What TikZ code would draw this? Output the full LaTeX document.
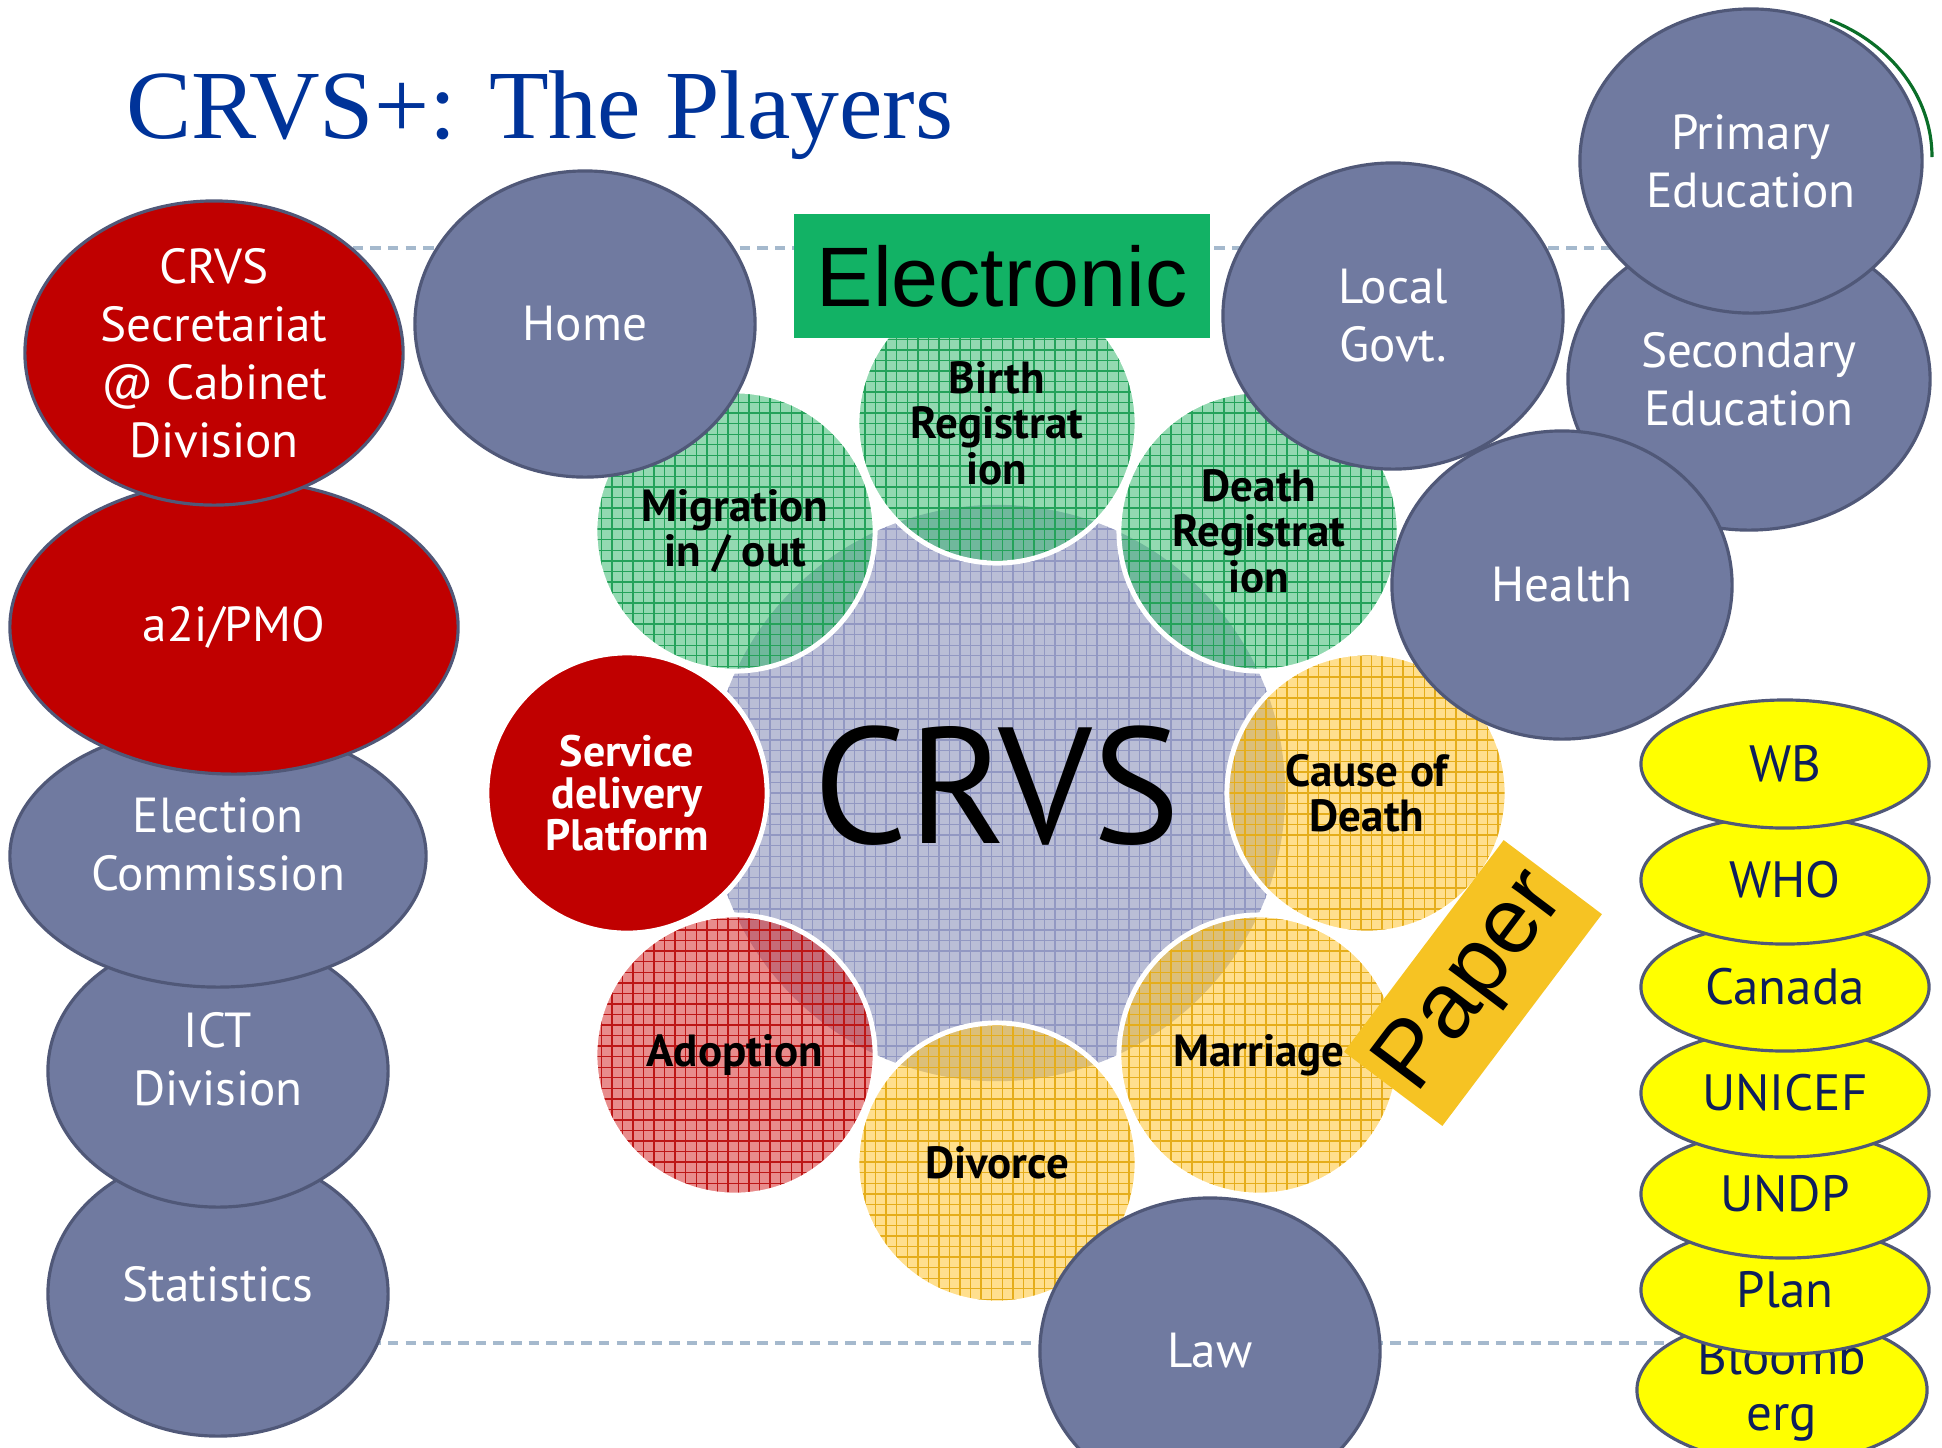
\documentclass[tikz,border=0pt]{standalone}
\usepackage{fontspec}
\setmainfont{PT Sans}
\newfontfamily\titlefont{Liberation Serif}
\newfontfamily\tagfont{Liberation Sans}
\usetikzlibrary{shapes.geometric,patterns}

\definecolor{playerblue}{RGB}{112,122,160}
\definecolor{playeredge}{RGB}{80,88,120}
\definecolor{crvsred}{RGB}{192,0,0}
\definecolor{donoryellow}{RGB}{255,255,0}
\definecolor{donortext}{RGB}{14,30,92}
\definecolor{titleblue}{RGB}{0,51,153}
\definecolor{hubgrey}{RGB}{186,190,214}
\definecolor{hubgrid}{RGB}{146,152,194}
\definecolor{evgreen}{RGB}{40,180,100}
\definecolor{evyellow}{RGB}{255,192,30}
\definecolor{evred}{RGB}{210,25,25}
\definecolor{tabgreen}{RGB}{18,178,101}
\definecolor{tabgold}{RGB}{246,195,35}
\definecolor{rulegrey}{RGB}{165,185,205}
\definecolor{arcgreen}{RGB}{10,110,40}

\tikzset{
  player/.style={ellipse, draw=playeredge, line width=0.9pt, fill=playerblue,
    text=white, align=center, inner sep=0pt, font=\fontsize{14}{16.5}\selectfont},
  lead/.style={player, fill=crvsred},
  donor/.style={ellipse, draw=playeredge, line width=0.9pt, fill=donoryellow,
    text=donortext, align=center, inner sep=0pt, minimum width=2.88cm,
    minimum height=1.28cm, font=\fontsize{14.5}{16}\selectfont},
  event/.style={circle, minimum size=2.8cm, inner sep=0pt, draw=white,
    line width=1.4pt, fill opacity=0.5, text opacity=1, preaction={fill=#1},
    pattern=grid, pattern color=#1!90!black, align=center,
    font=\bfseries\fontsize{12.8}{12.9}\selectfont},
  platform/.style={circle, minimum size=2.8cm, inner sep=0pt, draw=white,
    line width=1.4pt, fill=crvsred, text=white, align=center,
    font=\bfseries\fontsize{12.5}{12}\selectfont},
  tab/.style={inner sep=0pt, font=\tagfont\fontsize{24}{24}\selectfont},
  rule/.style={rulegrey, line width=0.9pt, dash pattern=on 3pt off 2pt},
}

\begin{document}
\begin{tikzpicture}[x=0.01cm, y=-0.01cm]
  \useasboundingbox (0,0) rectangle (1942,1447);
  \clip (0,0) rectangle (1942,1447);

  \node[anchor=base west, inner sep=0pt, text=titleblue,
    font=\titlefont\fontsize{27.8}{30}\selectfont] (title) at (126,138) {CRVS+: The Players};

  \coordinate (ruletopL) at (300,248);
  \coordinate (ruletopR) at (1800,248);
  \coordinate (rulebotL) at (300,1343);
  \coordinate (rulebotR) at (1700,1343);
  \draw[rule] (ruletopL) -- (ruletopR);
  \draw[rule] (rulebotL) -- (rulebotR);

  \node[circle, minimum size=5.76cm, inner sep=0pt, preaction={fill=hubgrey},
    pattern=grid, pattern color=hubgrid, text depth=5pt, font=\fontsize{47}{47}\selectfont]
    (hub) at (997,793) {CRVS};

  \node[event=evgreen] (birth) at (997,423) {Birth\\Registrat\\ion};
  \node[event=evgreen] (migration) at (735,531) {Migration\\in / out};
  \node[event=evgreen] (death) at (1259,531) {Death\\Registrat\\ion};
  \node[event=evyellow] (cause) at (1367,793) {Cause of\\Death};
  \node[event=evyellow] (marriage) at (1259,1055) {Marriage};
  \node[event=evyellow] (divorce) at (997,1163) {Divorce};
  \node[event=evred] (adoption) at (735,1055) {Adoption};
  \node[platform] (sdp) at (627,793) {Service\\delivery\\Platform};

  \node[tab, fill=tabgreen, minimum width=4.16cm, minimum height=1.23cm]
    (electronic) at (1002,276) {Electronic};
  \node[tab, fill=tabgold, minimum width=2.65cm, minimum height=1.23cm, rotate=53,
    font=\tagfont\fontsize{26.5}{26}\selectfont] (paper) at (1473,983) {Paper};

  \node[player, minimum width=3.4cm, minimum height=2.84cm, text depth=6pt] (stats) at (218,1294) {Statistics};
  \node[player, minimum width=3.4cm, minimum height=2.72cm, text depth=7pt] (ict) at (218,1071) {ICT\\Division};
  \node[player, minimum width=4.16cm, minimum height=2.62cm, text depth=7pt] (election) at (218,856) {Election\\Commission};
  \node[lead, minimum width=4.48cm, minimum height=2.94cm] (atwoi) at (234,627) {a2i/PMO};
  \node[lead, minimum width=3.78cm, minimum height=3.04cm] (secretariat) at (214,353)
    {CRVS\\Secretariat\\@ Cabinet\\Division};

  \node[player, minimum width=3.4cm, minimum height=3.06cm] (home) at (585,324) {Home};
  \node[player, minimum width=3.4cm, minimum height=3.06cm] (localgovt) at (1393,316) {Local\\Govt.};
  \node[player, minimum width=3.62cm, minimum height=3.02cm] (secondary) at (1749,379) {Secondary\\Education};
  \draw[arcgreen, line width=0.9pt] (1760,157) ++(0:172 and 150)
    arc[start angle=0, end angle=-66, x radius=172, y radius=150];
  \node[player, minimum width=3.42cm, minimum height=3.04cm] (primary) at (1751,161) {Primary\\Education};
  \node[player, minimum width=3.4cm, minimum height=3.08cm] (health) at (1562,585) {Health};
  \node[player, minimum width=3.4cm, minimum height=3.06cm] (law) at (1210,1351) {Law};

  \node[donor, minimum width=2.9cm] (bloomberg) at (1782,1390) {Bloomb\\erg};
  \node[donor] (plan) at (1785,1290) {Plan};
  \node[donor] (undp) at (1785,1194) {UNDP};
  \node[donor] (unicef) at (1785,1093) {UNICEF};
  \node[donor] (canada) at (1785,987) {Canada};
  \node[donor] (who) at (1785,880) {WHO};
  \node[donor] (wb) at (1785,764) {WB};
\end{tikzpicture}
\end{document}
